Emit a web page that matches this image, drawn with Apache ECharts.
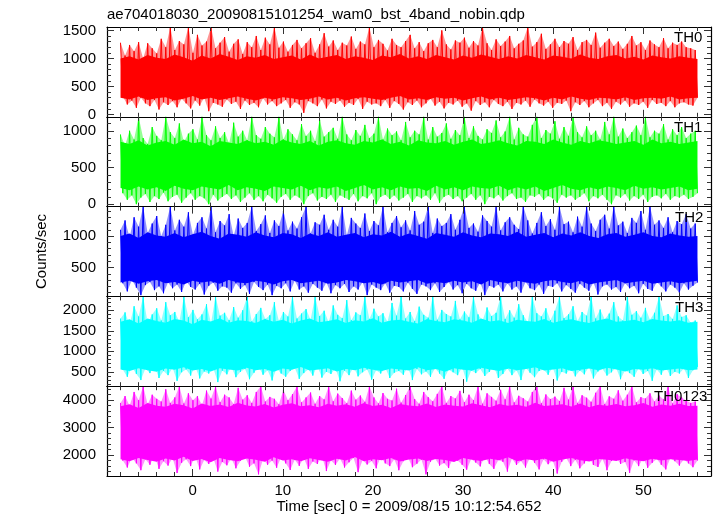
<!DOCTYPE html>
<html>
<head>
<meta charset="utf-8">
<script src="https://cdn.jsdelivr.net/npm/echarts@6/dist/echarts.min.js"></script>
<style>html,body{margin:0;padding:0;background:#fff}#c{width:717px;height:516px}</style>
</head>
<body>
<div id="c"></div>
<script>
// ---- data (hand-estimated from the picture) ----
var titleText = "ae704018030_20090815101254_wam0_bst_4band_nobin.qdp";
var xTitle = "Time [sec] 0 = 2009/08/15 10:12:54.652";
var yTitle = "Counts/sec";
var bandNames = ["TH0", "TH1", "TH2", "TH3", "TH0123"];
var bandColors = ["#ff0000", "#00ff00", "#0000ff", "#00ffff", "#ff00ff"];
var timeStart = -8;
var timeEnd = 56;
var xMajorTicks = [0, 10, 20, 30, 40, 50];
var xMinorTicks = [-8, -6, -4, -2, 2, 4, 6, 8, 12, 14, 16, 18, 22, 24, 26, 28, 32, 34, 36, 38, 42, 44, 46, 48, 52, 54, 56];
var yRanges = [[-40, 1560], [-33, 1190], [40, 1470], [150, 2340], [1240, 4510]];
var yMajorTicks = [[0, 500, 1000, 1500], [0, 500, 1000], [500, 1000], [500, 1000, 1500, 2000], [2000, 3000, 4000]];
var yMinorStep = [100, 100, 100, 100, 200];

// upper / lower excursions (spike tips), every 0.5 s
var th0Hi = [1280,1050,1240,1130,1290,1000,1270,1180,1090,1350,1200,1560,1150,1310,1250,1560,1100,1420,1230,1300,1560,1180,1280,1380,1120,1260,1340,1080,1290,1200,1400,1150,1370,1250,1560,1190,1300,1120,1240,1330,1180,1270,1360,1100,1250,1450,1210,1320,1150,1280,1230,1390,1170,1300,1250,1560,1200,1330,1260,1140,1350,1240,1200,1310,1420,1180,1290,1130,1270,1330,1200,1500,1250,1160,1320,1280,1370,1190,1310,1230,1560,1270,1150,1340,1220,1300,1400,1180,1260,1320,1560,1210,1290,1440,1170,1250,1350,1200,1310,1260,1380,1150,1290,1330,1240,1460,1190,1280,1350,1220,1300,1170,1260,1400,1230,1290,1150,1320,1250,1200,1360,1180,1280,1240,1300,1200,1180,1150];
var th0Lo = [320,180,250,120,300,200,150,260,90,220,170,240,130,280,200,110,250,160,300,60,210,180,140,270,190,230,100,250,170,210,130,290,180,240,150,200,260,120,220,180,30,240,200,150,270,110,230,190,250,140,210,170,280,100,230,180,200,150,260,120,240,190,90,220,170,250,130,200,280,160,230,110,210,180,250,140,200,70,240,170,220,130,260,190,150,230,100,210,180,250,140,270,200,160,230,120,210,190,250,60,220,170,240,130,200,260,150,210,100,230,180,250,140,200,170,230,120,260,190,210,150,240,130,200,220,180,160,300];

var th1Hi = [950,800,1000,880,1190,900,820,1050,930,870,1190,980,900,1100,850,960,1020,880,1190,940,870,1060,900,980,830,1110,920,1000,870,1190,940,890,1050,960,910,1190,880,1020,950,870,1090,930,1000,860,1150,920,980,1040,890,1190,950,870,1010,930,1080,900,960,1190,880,1030,940,990,870,1120,910,1000,950,1190,880,1050,920,970,1100,890,1010,940,1190,900,1060,930,880,1020,970,1140,910,990,1190,880,1040,950,920,1080,1190,900,1010,960,1130,890,1050,930,1190,980,910,1060,940,1000,880,1120,950,1190,920,1030,900,980,1070,940,1190,910,1000,960,1090,880,1020,940,1050,900,960,1000];
var th1Lo = [150,60,120,0,90,140,30,110,70,160,40,100,130,20,90,150,60,110,80,0,130,50,100,140,70,120,30,90,150,60,110,40,130,80,20,100,140,60,120,90,0,110,150,50,100,70,130,30,120,90,60,140,40,110,80,150,0,100,130,70,120,50,90,140,30,110,80,120,60,150,20,100,130,70,110,40,90,140,60,120,0,100,80,130,50,110,150,70,90,30,120,100,140,60,110,80,20,130,90,120,60,100,150,40,110,80,130,60,0,120,90,140,50,110,70,130,30,100,120,80,140,60,110,90,130,70,100,150];

var th2Hi = [1100,1250,980,1300,1150,1470,1050,1200,1320,1000,1180,1470,1090,1260,1150,1380,1020,1210,1300,1120,1470,1060,1240,1170,1350,1000,1280,1130,1210,1470,1080,1190,1330,1050,1250,1160,1400,1090,1230,1120,1300,1470,1040,1220,1180,1340,1100,1260,1150,1470,1010,1290,1200,1130,1360,1080,1240,1170,1470,1060,1210,1320,1140,1250,1090,1400,1180,1230,1470,1050,1280,1160,1210,1350,1100,1260,1470,1130,1200,1070,1330,1240,1150,1470,1090,1220,1300,1180,1110,1470,1250,1040,1210,1380,1160,1270,1100,1470,1190,1230,1060,1310,1150,1470,1200,1080,1260,1340,1120,1470,1170,1230,1050,1290,1210,1400,1100,1470,1180,1250,1130,1300,1060,1240,1190,1350,1120,1200];
var th2Lo = [250,120,300,180,60,220,270,140,200,90,260,170,230,110,280,190,150,240,70,210,260,130,200,180,100,250,160,220,80,270,190,140,230,60,210,170,250,120,290,150,200,100,240,180,130,260,90,220,170,240,110,200,150,270,60,230,180,140,250,100,210,190,120,260,160,80,230,200,140,250,110,190,270,150,220,90,240,170,130,260,60,210,180,230,120,250,150,200,100,270,170,140,230,80,210,190,250,120,220,160,100,240,180,130,260,70,200,230,150,190,110,250,170,210,90,240,160,130,270,200,120,230,180,100,250,150,210,260];

var th3Hi = [1800,1950,1650,2100,1850,2340,1700,1900,2050,1750,2200,1880,1960,1720,2340,1830,2010,1780,1900,2150,1690,2340,1870,1940,1760,2080,1820,2000,2340,1730,1910,2060,1790,1880,2200,1740,1960,1850,2340,1800,1920,2030,1770,2340,1860,1990,1710,2120,1890,1810,2250,1760,1950,1880,2340,1790,2040,1850,1930,1720,2180,1870,2340,1800,1960,1740,2090,1890,1820,2340,1770,2010,1910,1850,2230,1780,1970,1830,2340,1900,1750,2070,1860,1940,2340,1790,2000,1820,2150,1880,1710,2340,1930,1850,2050,1760,1990,2340,1810,1900,2100,1740,1960,1870,2340,1800,2020,1780,1920,2200,1850,1750,2340,1890,1980,1820,2060,1770,1940,2340,1860,1910,1790,2120,1840,1880,1700,1750];
var th3Lo = [550,380,620,450,300,580,470,640,350,520,420,600,280,490,560,410,630,340,510,460,590,250,530,440,610,370,500,570,320,480,620,430,540,290,590,460,380,520,600,330,470,560,410,640,360,500,450,580,270,530,420,610,390,490,560,310,540,460,600,350,480,520,430,620,300,570,440,510,380,590,460,330,550,490,420,610,260,530,470,570,400,500,620,350,450,580,420,540,300,600,480,370,520,560,430,610,290,500,460,580,390,530,440,620,340,510,570,410,490,600,320,540,470,380,590,450,520,280,560,430,610,400,500,460,580,350,540,620];

var th0123Hi = [3900,4150,3800,4300,4000,4510,3850,4200,4050,3950,4400,3900,4100,4510,3880,4250,4000,4150,3820,4350,4060,4510,3930,4200,4100,3860,4450,4020,4180,3900,4300,4510,3950,4120,4050,3850,4380,4000,4220,4510,3920,4100,4280,3870,4150,4030,4510,3960,4240,4080,3890,4350,4020,4170,3940,4510,4100,3880,4260,4050,3990,4420,3910,4190,4510,4040,3870,4300,4110,3960,4230,4510,3900,4150,4060,4340,3930,4200,4000,4510,3870,4250,4120,3980,4380,4030,4510,3920,4160,4070,3950,4300,4510,3890,4210,4040,4130,3970,4450,4020,4510,3900,4180,4090,3940,4270,4510,3860,4140,4050,4360,3980,4200,4510,3920,4110,4060,4250,3950,4170,4030,4510,3880,4220,4100,3990,3900,3950];
var th0123Lo = [1800,1550,1900,1700,1450,1850,1650,1980,1500,1780,1620,1900,1350,1720,1850,1600,1950,1480,1820,1680,1900,1400,1750,1630,1880,1520,1790,1940,1580,1700,1300,1860,1650,1800,1540,1920,1700,1460,1830,1610,1900,1500,1770,1680,1950,1420,1810,1640,1880,1550,1740,1900,1380,1820,1660,1790,1520,1930,1700,1600,1850,1450,1780,1920,1560,1690,1840,1300,1760,1880,1620,1710,1530,1900,1800,1650,1470,1860,1730,1590,1950,1680,1500,1820,1760,1400,1880,1640,1790,1550,1910,1720,1480,1850,1670,1800,1330,1760,1900,1600,1830,1520,1700,1940,1640,1570,1870,1450,1790,1920,1680,1750,1350,1810,1600,1890,1540,1720,1860,1650,1480,1900,1780,1620,1850,1700,1560,1800];

// dense core of each band (upper / lower edge), every 1 s
var th0CoreHi = [1000,1040,980,1060,1010,990,1070,1020,960,1050,1000,1080,1030,970,1040,1010,1060,990,1020,1050,980,1070,1000,1030,1060,990,1040,1010,970,1050,1020,1080,1000,1040,990,1060,1020,980,1050,1010,1070,1030,990,1040,1000,1060,1020,980,1050,1030,1000,1070,1010,990,1040,1060,1000,1030,980,1050,1020,1000,1040,1010,990];
var th0CoreLo = [300,270,320,260,290,310,250,280,330,270,300,260,290,320,280,250,300,270,310,290,260,280,320,270,300,250,290,310,280,260,300,330,270,290,260,310,280,300,250,290,320,270,300,260,280,310,290,250,300,270,320,280,260,300,290,270,310,260,290,300,280,320,270,290,300];
var th1CoreHi = [850,820,870,800,840,860,810,880,830,850,790,860,840,820,870,830,850,810,880,840,820,860,800,850,870,830,810,860,840,880,820,850,800,870,840,830,860,810,850,880,820,840,870,830,800,860,850,820,880,840,810,860,830,870,850,820,840,860,810,880,830,850,820,840,860];
var th1CoreLo = [220,190,240,200,230,180,250,210,190,240,220,200,260,190,230,210,180,240,220,200,250,190,230,210,240,180,220,260,200,230,190,240,210,220,180,250,200,230,190,240,220,210,250,190,230,200,240,180,220,260,210,190,230,200,240,220,190,250,210,230,200,220,240,190,210];
var th2CoreHi = [1000,1040,970,1060,1010,990,1050,980,1030,1070,1000,960,1040,1020,990,1060,1010,980,1050,1030,970,1040,1000,1060,990,1020,1050,980,1030,1010,1070,990,1040,1000,960,1050,1020,990,1060,1010,980,1040,1030,1000,1070,990,1020,1050,980,1040,1010,1060,1000,970,1030,1050,990,1020,1060,1000,980,1040,1010,990,1000];
var th2CoreLo = [260,290,240,280,300,250,270,230,290,260,280,240,300,260,250,290,270,230,280,300,250,270,290,240,260,300,280,250,270,230,290,260,280,300,240,270,250,290,260,280,230,300,270,250,290,260,240,280,300,270,250,290,230,260,280,300,250,270,290,240,260,280,250,270,290];
var th3CoreHi = [1720,1780,1680,1800,1740,1700,1790,1750,1660,1770,1730,1810,1700,1760,1740,1690,1790,1720,1770,1680,1750,1800,1710,1740,1780,1690,1760,1730,1810,1700,1750,1770,1720,1680,1790,1740,1710,1780,1750,1700,1800,1730,1760,1690,1770,1740,1720,1790,1700,1750,1780,1730,1690,1760,1800,1720,1740,1770,1710,1790,1750,1730,1760,1700,1720];
var th3CoreLo = [560,520,590,540,500,580,550,610,530,570,510,590,560,530,600,540,570,500,580,550,620,530,560,590,510,570,540,600,550,520,580,560,530,610,540,570,500,590,550,530,600,560,520,580,540,570,610,530,560,590,520,550,580,540,600,560,510,570,550,590,530,560,580,540,560];
var th0123CoreHi = [3780,3850,3720,3900,3800,3760,3870,3820,3700,3880,3790,3840,3750,3910,3810,3770,3860,3730,3830,3890,3780,3820,3740,3870,3800,3850,3760,3900,3790,3830,3720,3860,3810,3780,3880,3750,3840,3800,3770,3890,3820,3740,3860,3800,3830,3760,3910,3790,3820,3850,3770,3880,3740,3830,3800,3860,3780,3820,3900,3760,3840,3800,3870,3790,3800];
var th0123CoreLo = [1850,1780,1900,1820,1760,1880,1800,1940,1790,1860,1740,1900,1820,1780,1880,1830,1760,1920,1800,1850,1780,1890,1820,1760,1870,1800,1930,1780,1850,1810,1900,1770,1840,1880,1790,1860,1820,1750,1900,1830,1790,1870,1810,1920,1780,1850,1800,1880,1760,1840,1900,1810,1770,1860,1830,1790,1890,1820,1780,1870,1800,1850,1820,1790,1840];

var bandHi = [th0Hi, th1Hi, th2Hi, th3Hi, th0123Hi];
var bandLo = [th0Lo, th1Lo, th2Lo, th3Lo, th0123Lo];
var coreHi = [th0CoreHi, th1CoreHi, th2CoreHi, th3CoreHi, th0123CoreHi];
var coreLo = [th0CoreLo, th1CoreLo, th2CoreLo, th3CoreLo, th0123CoreLo];

// ---- build ----
function sampleTimes(n, offset, count) {
  var step = (timeEnd - timeStart) / (count - 1);
  var t = [];
  for (var i = 0; i < n; i++) t.push(timeStart + (2 * i + offset) * step);
  return t;
}
function buildSpikeData(hi, lo) {
  var n = Math.min(hi.length, lo.length);
  var tH = sampleTimes(n, 0, 2 * n), tL = sampleTimes(n, 1, 2 * n);
  var out = [];
  for (var i = 0; i < n; i++) { out.push([tH[i], hi[i]]); out.push([tL[i], lo[i]]); }
  return out;
}
function buildPoints(arr, times) { return arr.slice(0, times.length).map(function (v, i) { return [times[i], v]; }); }
function buildCoreData(arr) {
  var step = (timeEnd - timeStart) / (arr.length - 1);
  return arr.map(function (v, i) { return [timeStart + i * step, v]; });
}
function range(a, b, s) { var r = []; for (var v = a; v <= b + 1e-9; v += s) r.push(v); return r; }
function plain(v) { return String(Math.round(v)); }

var FONT = "'Liberation Sans', Arial, Helvetica, sans-serif";
var L = 107, R = 711, TOP = 27, BOT = 476;
var PH = (BOT - TOP) / 5;
var XMIN = -9.5, XMAX = 57.5;
var MAJ = 7, MIN = 4;

function makeBandRender(hiPts, loPts, color, opacity) {
  return function (params, api) {
    if (params.dataIndex !== 0) return null;
    var pts = [];
    for (var i = 0; i < hiPts.length; i++) pts.push(api.coord(hiPts[i]));
    for (var j = loPts.length - 1; j >= 0; j--) pts.push(api.coord(loPts[j]));
    return { type: 'polygon', shape: { points: pts }, style: { fill: color, opacity: opacity, stroke: null } };
  };
}

var grids = [], xAxes = [], yAxes = [], series = [];
for (var p = 0; p < 5; p++) {
  grids.push({ left: L, right: 717 - R, top: TOP + p * PH, height: PH, containLabel: false });
  var isBottom = (p === 4);
  var xBase = xAxes.length;
  [['bottom', MAJ, xMajorTicks], ['bottom', MIN, xMinorTicks], ['top', MAJ, xMajorTicks], ['top', MIN, xMinorTicks]].forEach(function (cfg, k) {
    xAxes.push({
      gridIndex: p, type: 'value', position: cfg[0], min: XMIN, max: XMAX,
      axisLine: { show: k === 0 || k === 2, onZero: false, lineStyle: { color: '#000', width: 1.2 } },
      axisTick: { show: true, inside: true, length: cfg[1], customValues: cfg[2], lineStyle: { color: '#333', width: 1 } },
      axisLabel: { show: isBottom && k === 0, customValues: xMajorTicks, formatter: plain, margin: 7, color: '#000', fontSize: 15, fontFamily: FONT },
      splitLine: { show: false }, z: 5
    });
  });
  var yr = yRanges[p];
  var firstMinor = Math.ceil(yr[0] / yMinorStep[p]) * yMinorStep[p];
  var minorY = range(firstMinor, yr[1], yMinorStep[p]).filter(function (v) { return yMajorTicks[p].indexOf(v) < 0; });
  [['left', MAJ, yMajorTicks[p]], ['left', MIN, minorY], ['right', MAJ, yMajorTicks[p]], ['right', MIN, minorY]].forEach(function (cfg, k) {
    yAxes.push({
      gridIndex: p, type: 'value', position: cfg[0], min: yr[0], max: yr[1],
      axisLine: { show: k === 0 || k === 2, onZero: false, lineStyle: { color: '#000', width: 1.2 } },
      axisTick: { show: true, inside: true, length: cfg[1], customValues: cfg[2], lineStyle: { color: '#333', width: 1 } },
      axisLabel: { show: k === 0, customValues: yMajorTicks[p], formatter: plain, margin: 11, color: '#000', fontSize: 15, fontFamily: FONT },
      splitLine: { show: false }, z: 5
    });
  });
  var n = Math.min(bandHi[p].length, bandLo[p].length);
  var hiPts = buildPoints(bandHi[p], sampleTimes(n, 0, 2 * n));
  var loPts = buildPoints(bandLo[p], sampleTimes(n, 1, 2 * n));
  // light fringe: envelope of the excursions (dense thin lines render lighter)
  series.push({
    type: 'custom', xAxisIndex: xBase, yAxisIndex: p * 4, data: hiPts.concat(loPts),
    renderItem: makeBandRender(hiPts, loPts, bandColors[p], 0.42), silent: true, z: 1, clip: true
  });
  // dense core of the band
  var cHi = buildCoreData(coreHi[p]);
  var cLo = buildCoreData(coreLo[p]);
  series.push({
    type: 'custom', xAxisIndex: xBase, yAxisIndex: p * 4, data: cHi.concat(cLo),
    renderItem: makeBandRender(cHi, cLo, bandColors[p], 1), silent: true, z: 2, clip: true
  });
  // individual excursions
  series.push({
    type: 'line', xAxisIndex: xBase, yAxisIndex: p * 4, data: buildSpikeData(bandHi[p], bandLo[p]),
    symbol: 'none', lineStyle: { color: bandColors[p], width: 1 }, itemStyle: { color: bandColors[p] }, z: 3
  });
}

var graphics = [
  { type: 'text', left: 107, top: 7, style: { text: titleText, fontSize: 15, fontFamily: FONT, fill: '#000' } },
  { type: 'text', x: (L + R) / 2, y: 507, style: { text: xTitle, fontSize: 15, fontFamily: FONT, fill: '#000', align: 'center', verticalAlign: 'middle' } },
  { type: 'text', x: 42, y: (TOP + BOT) / 2, rotation: Math.PI / 2, style: { text: yTitle, fontSize: 15, fontFamily: FONT, fill: '#000', align: 'center', verticalAlign: 'middle' } }
];
var labelX = [674, 674, 675, 675, 654];
for (var q = 0; q < 5; q++) {
  graphics.push({ type: 'text', x: labelX[q], y: TOP + q * PH + 11, z: 10, style: { text: bandNames[q], fontSize: 15, fontFamily: FONT, fill: '#000', verticalAlign: 'middle' } });
}

var chart = echarts.init(document.getElementById('c'), null, { renderer: 'canvas' });
chart.setOption({
  animation: false,
  backgroundColor: '#fff',
  grid: grids, xAxis: xAxes, yAxis: yAxes, series: series, graphic: graphics
});
</script>
</body>
</html>
